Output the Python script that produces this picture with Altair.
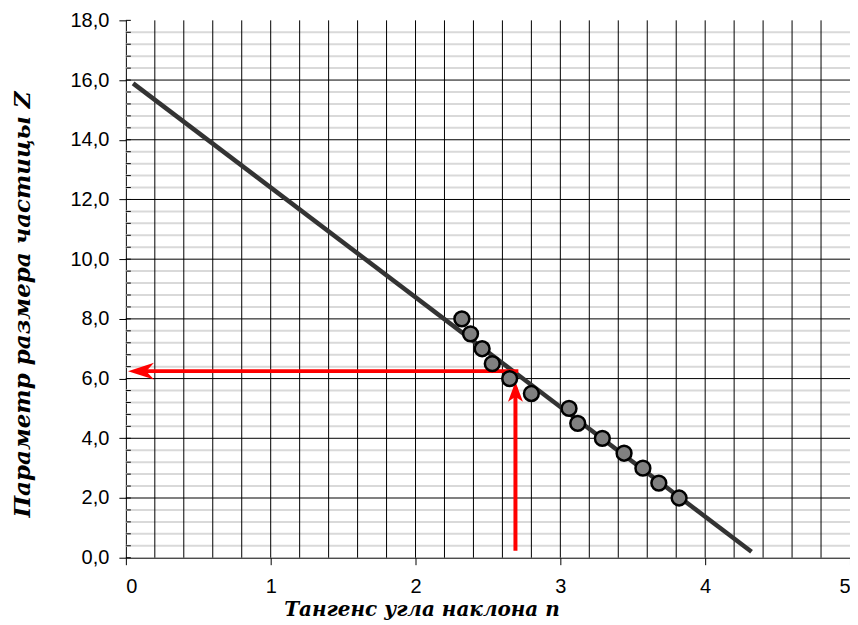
import altair as alt
import pandas as pd

# ---- data ----
n_vals = [2.32, 2.38, 2.46, 2.53, 2.65, 2.80, 3.06, 3.12, 3.29, 3.44, 3.57, 3.68, 3.82]
z_vals = [8.0, 7.5, 7.0, 6.5, 6.0, 5.5, 5.0, 4.5, 4.0, 3.5, 3.0, 2.5, 2.0]
fit_n = [0.05, 4.32]
fit_z = [15.89, 0.20]
arrow_n = 2.69          # read-off tangent value
arrow_z = 6.25          # read-off Z value
x_tick_vals = [0, 1, 2, 3, 4, 5]
y_tick_vals = [0, 2, 4, 6, 8, 10, 12, 14, 16, 18]
x_title = "Тангенс угла наклона n"
y_title = "Параметр размера частицы Z"

# grid positions
x_grid = [round(0.2 * i, 1) for i in range(1, 25)]
y_minor = [round(0.4 * i, 1) for i in range(1, 46) if (i * 4) % 20 != 0]
y_major = [v for v in y_tick_vals if 0 < v < 18]
y_all_ticks = [round(0.4 * i, 1) for i in range(0, 46)]

W, H = 725, 538
xs = alt.Scale(domain=[0, 5], nice=False, zero=False)
ys = alt.Scale(domain=[0, 18], nice=False, zero=False)

X_AX = alt.Axis(
    values=x_tick_vals, format="d", grid=False,
    tickSize=7, tickColor="#000", domainColor="#000",
    labelFont="Liberation Sans", labelFontSize=20, labelColor="#000",
    labelPadding=12,
    titleFont="DejaVu Serif", titleFontSize=20, titleFontWeight="bold",
    titleFontStyle="italic", titleColor="#000",
    titleX=296, titleY=58, titleBaseline="alphabetic", titleAlign="center")
Y_AX = alt.Axis(
    values=y_tick_vals, grid=False,
    labelExpr="replace(format(datum.value, '.1f'), '.', ',')",
    tickSize=7, tickColor="#000", domainColor="#000",
    labelFont="Liberation Sans", labelFontSize=20, labelColor="#000",
    labelPadding=10,
    titleFont="DejaVu Serif", titleFontSize=23, titleFontWeight="bold",
    titleFontStyle="italic", titleColor="#000",
    titleAngle=-90, titleX=-96, titleY=284,
    titleBaseline="alphabetic", titleAlign="center")


def X(field):
    return alt.X(field, type="quantitative", scale=xs, title=x_title, axis=X_AX)


def Y(field):
    return alt.Y(field, type="quantitative", scale=ys, title=y_title, axis=Y_AX)


df_pts = pd.DataFrame({"n": n_vals, "z": z_vals})
df_fit = pd.DataFrame({"n": fit_n, "z": fit_z})

minor_h = alt.Chart(pd.DataFrame({"z": y_minor})).mark_rule(
    color="#d9d9d9", strokeWidth=2
).encode(y=Y("z"), x=alt.value(0), x2=alt.value(W))

vert = alt.Chart(pd.DataFrame({"n": x_grid})).mark_rule(
    color="#000000", strokeWidth=1
).encode(x=X("n"), y=alt.value(0), y2=alt.value(H))

major_h = alt.Chart(pd.DataFrame({"z": y_major})).mark_rule(
    color="#000000", strokeWidth=1
).encode(y=Y("z"), x=alt.value(0), x2=alt.value(W))

inner_ticks = alt.Chart(pd.DataFrame({"z": y_all_ticks})).mark_rule(
    color="#000000", strokeWidth=1
).encode(y=Y("z"), x=alt.value(0), x2=alt.value(5))

fit = alt.Chart(df_fit).mark_line(color="#333333", strokeWidth=4.5).encode(
    x=X("n"), y=Y("z"))

pts = alt.Chart(df_pts).mark_point(
    filled=True, fill="#808080", stroke="#000000", strokeWidth=2.5,
    size=220, opacity=1, shape="circle"
).encode(x=X("n"), y=Y("z"))

red_h = alt.Chart(pd.DataFrame({"n": [0.10], "n2": [arrow_n + 0.02], "z": [arrow_z]})).mark_rule(
    color="#ff0000", strokeWidth=4
).encode(x=X("n"), x2="n2:Q", y=Y("z"))

red_v = alt.Chart(pd.DataFrame({"n": [arrow_n], "z": [0.23], "z2": [5.7]})).mark_rule(
    color="#ff0000", strokeWidth=4
).encode(x=X("n"), y=Y("z"), y2="z2:Q")

head_left = alt.Chart(pd.DataFrame({"n": [0.015], "z": [arrow_z]})).mark_point(
    filled=True, color="#ff0000", opacity=1, size=676,
    shape="M 0 0 L 2 -0.65 L 1.4 0 L 2 0.65 Z"
).encode(x=X("n"), y=Y("z"))

head_up = alt.Chart(pd.DataFrame({"n": [arrow_n], "z": [5.89]})).mark_point(
    filled=True, color="#ff0000", opacity=1, size=400,
    shape="M 0 0 L -0.75 2 L 0 1.5 L 0.75 2 Z"
).encode(x=X("n"), y=Y("z"))

chart = alt.layer(
    minor_h, vert, major_h, inner_ticks, fit, red_h, red_v, head_left, head_up, pts
).properties(
    width=W, height=H,
    autosize=alt.AutoSizeParams(type="none"),
    padding={"left": 118, "top": 12, "right": 0, "bottom": 62},
    background="#ffffff"
).configure_view(stroke=None)

chart.save("out.html", embed_options={"renderer": "svg", "actions": False})
